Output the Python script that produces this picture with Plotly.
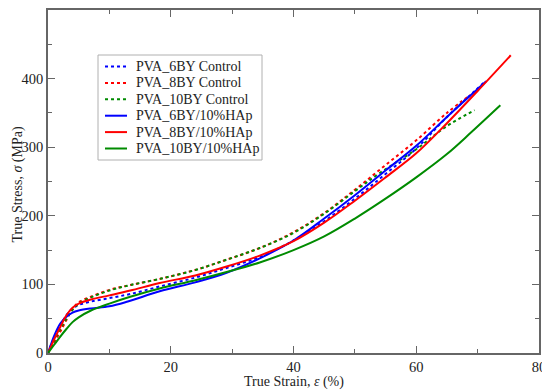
import plotly.graph_objects as go

# 6BY Control (dotted blue)
x_6c = [0, 0.5, 1, 2, 3, 4, 5, 7, 10, 13.4, 18.2, 24, 29.1, 34.5, 40, 45, 50, 55, 60, 65, 71]
y_6c = [0, 12, 22, 40, 55, 65, 70, 75, 80, 86, 97, 110, 124, 140, 164, 192, 225, 261, 298, 344, 394]
# 8BY Control (dotted red)
x_8c = [0, 1, 2, 3, 4, 5, 7, 10, 13.4, 18.2, 24, 29.1, 34.5, 40, 45, 50, 55, 60, 65, 68.8]
y_8c = [0, 15, 31, 48, 64, 74, 82, 92, 99, 108, 121, 136, 153, 176, 204, 238, 274, 310, 350, 376]
# 10BY Control (dotted green)
x_10c = [0, 1, 2, 3, 4, 5, 7, 10, 13.4, 18.2, 24, 29.1, 34.5, 40, 45, 50, 54, 60, 64.7, 69.5]
y_10c = [0, 18, 35, 50, 63, 72, 81, 91, 99, 108, 121, 136, 153, 175, 203, 236, 262, 297, 329, 354]
# 6BY/10%HAp (solid blue)
x_6h = [0, 0.5, 1, 2, 3, 4, 5, 7, 10, 13, 18.2, 24, 29.1, 34.5, 40, 45, 50, 55, 60, 65, 71.4]
y_6h = [0, 13, 25, 43, 53, 59, 62, 65, 68, 75, 90, 103, 117, 138, 164, 196, 230, 266, 302, 344, 396]
# 8BY/10%HAp (solid red)
x_8h = [0, 0.5, 1, 2, 3, 4, 5, 7, 10, 13.4, 18.2, 24, 29.1, 34.5, 40, 45, 50, 55, 60, 65, 70, 75.4]
y_8h = [0, 10, 20, 38, 55, 66, 72, 78, 84, 91, 102, 113, 126, 142, 163, 190, 222, 256, 291, 335, 382, 434]
# 10BY/10%HAp (solid green)
x_10h = [0, 1, 2, 3, 4, 5, 7, 10, 13.4, 18.2, 24, 29.1, 34.5, 40, 45, 50, 55, 60, 65, 69, 73.7]
y_10h = [0, 12, 24, 35, 45, 52, 62, 72, 82, 94, 106, 118, 132, 150, 170, 196, 225, 256, 290, 322, 361]

BLUE = "#0000ff"
RED = "#ff0000"
GREEN = "#008b00"
DOT = "3px,3px"

series = [
    ("PVA_6BY Control", x_6c, y_6c, BLUE, DOT),
    ("PVA_8BY Control", x_8c, y_8c, RED, DOT),
    ("PVA_10BY Control", x_10c, y_10c, GREEN, DOT),
    ("PVA_6BY/10%HAp", x_6h, y_6h, BLUE, "solid"),
    ("PVA_8BY/10%HAp", x_8h, y_8h, RED, "solid"),
    ("PVA_10BY/10%HAp", x_10h, y_10h, GREEN, "solid"),
]

FONT = "Liberation Serif"

fig = go.Figure()
for name, xs, ys, col, dash in series:
    fig.add_trace(go.Scatter(
        x=xs, y=ys, mode="lines", name=name, showlegend=False,
        line=dict(color=col, width=2, dash=dash, shape="spline", smoothing=1.0),
    ))

# The page body has an 8px margin, so the figure is offset by 8px.
OFF = 8
W, H = 550 - OFF, 390 - OFF
# Target plot-area edges in window pixels
PLOT_L, PLOT_R, PLOT_T, PLOT_B = 48, 539, 10, 353

def px_x(px):
    return (px - PLOT_L) / (PLOT_R - PLOT_L)
def px_y(py):
    return (PLOT_B - py) / (PLOT_B - PLOT_T)

shapes = [dict(type="rect", xref="paper", yref="paper",
               x0=px_x(98), x1=px_x(262), y0=px_y(160), y1=px_y(55),
               line=dict(color="#b0b0b0", width=1), fillcolor="white", layer="above")]
annotations = []
for i, (name, xs, ys, col, dash) in enumerate(series):
    yy = px_y(66.5 + 16.4 * i)
    shapes.append(dict(type="line", xref="paper", yref="paper",
                       x0=px_x(105), x1=px_x(127), y0=yy, y1=yy,
                       line=dict(color=col, width=2, dash=dash), layer="above"))
    annotations.append(dict(xref="paper", yref="paper", x=px_x(134), y=yy,
                            text=name, showarrow=False, xanchor="left", yanchor="middle",
                            font=dict(family=FONT, size=14, color="#222222")))

# Axis titles placed as annotations for exact positioning
annotations.append(dict(xref="paper", yref="paper", x=px_x(294), y=px_y(382),
                        text="True Strain, <i>ε</i> (%)", showarrow=False,
                        xanchor="center", yanchor="middle", borderpad=0,
                        font=dict(family=FONT, size=14, color="#222222")))
annotations.append(dict(xref="paper", yref="paper", x=px_x(17.5), y=px_y(185),
                        text="True Stress, <i>σ</i> (MPa)", showarrow=False, textangle=-90,
                        xanchor="center", yanchor="middle", borderpad=0,
                        font=dict(family=FONT, size=14, color="#222222")))

axis_common = dict(
    showgrid=False, zeroline=False, showline=True, linecolor="#666666", linewidth=1.5,
    mirror="ticks", ticks="inside", ticklen=7, tickwidth=1, tickcolor="#666666",
    tickfont=dict(family=FONT, size=14.5, color="#222222"), automargin=False,
)

fig.update_xaxes(
    range=[0, 80], tick0=0, dtick=20,
    minor=dict(ticks="inside", ticklen=4, dtick=10, tickcolor="#666666", showgrid=False),
    **axis_common,
)
fig.update_yaxes(
    range=[0, 500], tick0=0, dtick=100,
    minor=dict(ticks="inside", ticklen=4, dtick=50, tickcolor="#666666", showgrid=False),
    **axis_common,
)

fig.update_layout(
    width=W, height=H,
    margin=dict(l=PLOT_L - OFF, r=550 - PLOT_R, t=PLOT_T - OFF, b=390 - PLOT_B, pad=0),
    plot_bgcolor="white", paper_bgcolor="white",
    showlegend=False,
    shapes=shapes, annotations=annotations,
)

fig.write_html("out.html")
